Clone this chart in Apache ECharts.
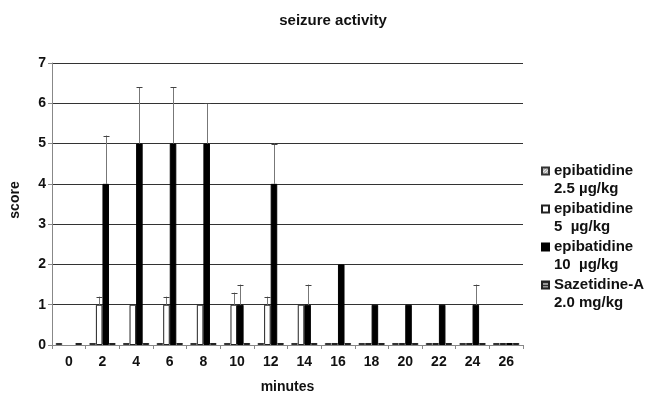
<!DOCTYPE html>
<html><head><meta charset="utf-8">
<script src="https://cdn.jsdelivr.net/npm/echarts@6/dist/echarts.min.js"></script>
<style>html,body{margin:0;padding:0;background:#fff}#c{width:647px;height:399px}</style>
</head><body><div id="c"></div>
<script>
const categories = ['0','2','4','6','8','10','12','14','16','18','20','22','24','26'];
const seriesNames = ['epibatidine\n2.5 µg/kg','epibatidine\n5  µg/kg','epibatidine\n10  µg/kg','Sazetidine-A\n2.0 mg/kg'];
const epi25 = [0.05,0.05,0.05,0.05,0.05,0.05,0.05,0.05,0.05,0.05,0.05,0.05,0.05,0.05];
const epi5  = ['-',1,1,1,1,1,1,1,0.05,0.05,0.05,0.05,0.05,0.05];
const epi10 = ['-',4,5,5,5,1,4,1,2,1,1,1,1,0.05];
const saz   = [0.05,0.05,0.05,0.05,0.05,0.05,0.05,0.05,0.05,0.05,0.05,0.05,0.05,0.05];
// upper error bar ends: [categoryIndex, top]
const epi5Err  = [[1,1.2],[3,1.2],[5,1.3],[6,1.2]];
const epi10Err = [[1,5.2],[2,6.4],[3,6.4],[4,6.0],[5,1.5],[6,5.0],[7,1.5],[12,1.5]];

function dotPattern(){
  const c=document.createElement('canvas');c.width=3;c.height=3;
  const g=c.getContext('2d');g.fillStyle='#e6e6e6';g.fillRect(0,0,3,3);
  g.fillStyle='#888';g.fillRect(0,0,1,1);g.fillRect(2,1,1,1);g.fillRect(1,2,1,1);
  return {image:c,repeat:'repeat'};
}
function stripePattern(){
  const c=document.createElement('canvas');c.width=4;c.height=3;
  const g=c.getContext('2d');g.fillStyle='#fff';g.fillRect(0,0,4,3);
  g.fillStyle='#333';g.fillRect(0,0,4,2);
  return {image:c,repeat:'repeat'};
}
const CAT_GAP = 0.22, NBARS = 4;
function errSeries(data, k){
  return {
    type:'custom', silent:true, z:5,
    data: data.map(d=>[d[0], d[1], k===1?epi5[d[0]]:epi10[d[0]]]),
    renderItem:function(params, api){
      const cw = api.size([1,0])[0];
      const group = cw*(1-CAT_GAP), bw = group/NBARS;
      const c = api.coord([api.value(0), api.value(1)]);
      const b = api.coord([api.value(0), api.value(2)]);
      const x = Math.round(c[0] - group/2 + bw*(k+0.5)) + 0.5;
      const cap = 3;
      return {type:'group', children:[
        {type:'line', shape:{x1:x,y1:b[1],x2:x,y2:c[1]}, style:{stroke:'#777',lineWidth:1}},
        {type:'line', shape:{x1:x-cap,y1:Math.round(c[1])+0.5,x2:x+cap,y2:Math.round(c[1])+0.5}, style:{stroke:'#444',lineWidth:1}}
      ]};
    }
  };
}
const chart = echarts.init(document.getElementById('c'));
const font = 'Liberation Sans, Arial, sans-serif';
chart.setOption({
  animation:false,
  textStyle:{fontFamily:font},
  title:{text:'seizure activity', left:328, top:8, textAlign:'center',
    textStyle:{fontSize:15, fontWeight:'bold', color:'#111', fontFamily:font}},
  grid:{left:51, right:124, top:63, bottom:53},
  legend:{orient:'vertical', left:541, top:144, padding:0, itemWidth:7, itemHeight:7, itemGap:-16,
    icon:'rect',
    data: seriesNames,
    textStyle:{fontSize:15, fontWeight:'bold', color:'#111', lineHeight:18, fontFamily:font},
    formatter: n=>'\n'+n},
  xAxis:{type:'category', data:categories, name:'minutes', nameLocation:'middle', nameGap:35,
    nameTextStyle:{fontSize:14,fontWeight:'bold',color:'#111'},
    axisLine:{lineStyle:{color:'#888'}},
    axisTick:{show:true, length:4, lineStyle:{color:'#888'}},
    axisLabel:{fontSize:14, fontWeight:'bold', color:'#111', margin:10}},
  yAxis:{type:'value', min:0, max:7, interval:1, name:'score', nameLocation:'middle', nameGap:30,
    nameTextStyle:{fontSize:14,fontWeight:'bold',color:'#111', padding:[0,0,0,8]},
    axisLine:{show:true, lineStyle:{color:'#888'}},
    axisTick:{show:true, length:4, lineStyle:{color:'#888'}},
    axisLabel:{fontSize:14, fontWeight:'bold', color:'#111', margin:6},
    splitLine:{lineStyle:{color:'#333', width:1}}},
  series:[
    {name:seriesNames[0], type:'bar', data:epi25, barGap:'0%', barCategoryGap:(CAT_GAP*100)+'%',
      itemStyle:{color:dotPattern(), borderColor:'#333', borderWidth:1}},
    {name:seriesNames[1], type:'bar', data:epi5,
      itemStyle:{color:'#fff', borderColor:'#222', borderWidth:1}},
    {name:seriesNames[2], type:'bar', data:epi10,
      itemStyle:{color:'#000', borderColor:'#000', borderWidth:1}},
    {name:seriesNames[3], type:'bar', data:saz,
      itemStyle:{color:stripePattern(), borderColor:'#222', borderWidth:1}},
    errSeries(epi5Err,1),
    errSeries(epi10Err,2)
  ]
});
</script></body></html>
